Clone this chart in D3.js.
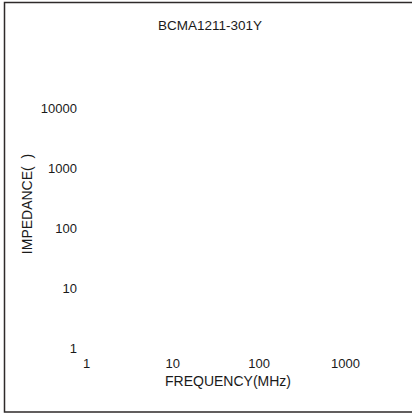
<!DOCTYPE html>
<html>
<head>
<meta charset="utf-8">
<script src="https://cdn.jsdelivr.net/npm/d3@7"></script>
<style>
  html, body { margin: 0; padding: 0; background: #fff; overflow: hidden; }
  svg { display: block; }
  text { font-family: "Liberation Sans", Arial, sans-serif; fill: #1a1a1a; }
</style>
</head>
<body>
<script>
const chartTitle = "BCMA1211-301Y";
const xAxisTitle = "FREQUENCY(MHz)";
const yAxisTitle = "IMPEDANCE(  )";
const xTicks = [1, 10, 100, 1000];
const yTicks = [1, 10, 100, 1000, 10000];
const xTickLabels = ["1", "10", "100", "1000"];
const yTickLabels = ["1", "10", "100", "1000", "10000"];

const W = 412, H = 414;
const svg = d3.select("body").append("svg").attr("width", W).attr("height", H);

// outer frame (left, top, bottom; right edge lies outside the picture)
svg.append("path")
  .attr("d", `M${W},2.5 H4.5 V412 H${W}`)
  .attr("fill", "none").attr("stroke", "#2e2a2a").attr("stroke-width", 1.5);

const x = d3.scaleLog().domain([1, 1000]).range([86, 345]);
const y = d3.scaleLog().domain([1, 10000]).range([348, 108]);

// x axis
const xAxis = d3.axisBottom(x)
  .tickValues(xTicks)
  .tickFormat((d, i) => xTickLabels[i])
  .tickSize(0).tickPadding(0);
const gx = svg.append("g").attr("transform", "translate(0,359)").call(xAxis);
gx.select(".domain").remove();
gx.selectAll("text").attr("font-size", 13).attr("fill", "#1a1a1a")
  .attr("font-family", "Liberation Sans, Arial, sans-serif");

// y axis
const yAxis = d3.axisLeft(y)
  .tickValues(yTicks)
  .tickFormat((d, i) => yTickLabels[i])
  .tickSize(0).tickPadding(0);
const gy = svg.append("g").attr("transform", "translate(77,0)").call(yAxis);
gy.select(".domain").remove();
gy.selectAll("text").attr("font-size", 13).attr("fill", "#1a1a1a")
  .attr("font-family", "Liberation Sans, Arial, sans-serif");

// title
svg.append("text")
  .attr("x", 210).attr("y", 30)
  .attr("text-anchor", "middle")
  .attr("font-size", 13.5)
  .text(chartTitle);

// x axis title
svg.append("text")
  .attr("x", 228).attr("y", 386)
  .attr("text-anchor", "middle")
  .attr("font-size", 14)
  .text(xAxisTitle);

// y axis title
svg.append("text")
  .attr("transform", "translate(32,204) rotate(-90)")
  .attr("text-anchor", "middle")
  .attr("font-size", 14)
  .style("white-space", "pre")
  .text(yAxisTitle);
</script>
</body>
</html>
